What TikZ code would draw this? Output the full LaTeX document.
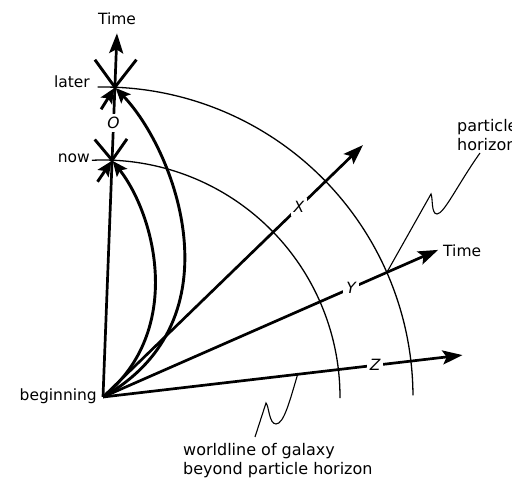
\documentclass[tikz,border=0pt]{standalone}
\usepackage{fontspec}
\setmainfont{DejaVu Sans}
\usetikzlibrary{arrows.meta,calc}
\begin{document}
\begin{tikzpicture}[x=1pt,y=1pt,
  axis/.style={line width=2.7pt,-{Stealth[length=20pt,width=14pt,inset=4pt]}},
  thinarc/.style={line width=1.3pt},
  wline/.style={line width=2.9pt,shorten >=1pt,-{Stealth[length=15pt,width=13pt,inset=3pt]}},
  starln/.style={line width=2.9pt},
  starin/.style={line width=2.9pt,shorten >=1pt,-{Stealth[length=15pt,width=13pt,inset=3pt]}},
  lbl/.style={font=\fontsize{15.5}{18}\selectfont, inner sep=0pt},
  lbltwo/.style={font=\fontsize{16}{19.5}\selectfont, inner sep=0pt, align=left},
  axlbl/.style={font=\fontsize{15.5}{18}\selectfont\itshape, fill=white, inner sep=3pt},
  pointer/.style={line width=1.1pt}]
\useasboundingbox (0,0) rectangle (512,480);
% origin and axes
\coordinate (B) at (103,83);
\coordinate (Ttip) at ($(B)+(87.8:364)$);
\coordinate (Xtip) at ($(B)+(44.1:362)$);
\coordinate (Ytip) at ($(B)+(23.7:366)$);
\coordinate (Ztip) at ($(B)+(6.65:362)$);
\coordinate (now) at ($(B)+(87.8:237)$);
\coordinate (later) at ($(B)+(87.8:310)$);
% arcs
\draw[thinarc] ($(B)+(-0.3:237)$) arc[start angle=-0.3,end angle=92.7,radius=237];
\draw[thinarc] ($(B)+(0.3:310)$) arc[start angle=0.3,end angle=91,radius=310];
% worldlines
\draw[wline] (B) .. controls (185,150) and (155,265) .. (now);
\draw[wline] (B) .. controls (240,160) and (175,330) .. (later);
% axes
\draw[axis] (B) -- (Ttip);
\draw[axis] (B) -- (Xtip);
\draw[axis] (B) -- (Ytip);
\draw[axis] (B) -- (Ztip);
% stars
\draw[starln] ($(later)+(126:34)$) -- (later);
\draw[starln] ($(later)+(52:35)$) -- (later);
\draw[starin] ($(later)+(238:26)$) -- (later);
\draw[starln] ($(now)+(130:27)$) -- (now);
\draw[starln] ($(now)+(55:26)$) -- (now);
\draw[starin] ($(now)+(236:26)$) -- (now);
% axis labels
\node[axlbl] (O) at ($(B)+(87.8:274)$) {O};
\node[axlbl] (Xl) at ($(B)+(44.1:273)$) {X};
\node[axlbl] (Yl) at ($(B)+(23.7:271)$) {Y};
\node[axlbl] (Zl) at ($(B)+(6.65:274)$) {Z};
% texts
\node[lbl] (timetop) at (117,461) {Time};
\node[lbl,anchor=west] (timeright) at (443,229) {Time};
\node[lbl,anchor=east] (laterl) at (90,398) {later};
\node[lbl,anchor=east] (nowl) at (90,322) {now};
\node[lbl,anchor=east] (begl) at (97,84) {beginning};
\node[lbltwo,anchor=west] (ph) at (457,345) {particle\\horizon};
\node[lbltwo,anchor=west] (wl) at (183,19.5) {worldline of galaxy\\beyond particle horizon};
% pointers
\coordinate (phS) at (480,327);
\coordinate (phT) at ($(B)+(23.7:310)$);
\draw[pointer] (phS) .. controls (458,296) and (444,266) .. (437,266)
  .. controls (431,266) and (433,282) .. (431,286) -- (phT);
\coordinate (wlT) at ($(B)+(6.65:196)$);
\coordinate (wlS) at (255,43);
\draw[pointer] (wlT) .. controls (290,80) and (284,56) .. (276,56)
  .. controls (269,56) and (269,74) .. (266,77) -- (wlS);
\end{tikzpicture}
\end{document}
